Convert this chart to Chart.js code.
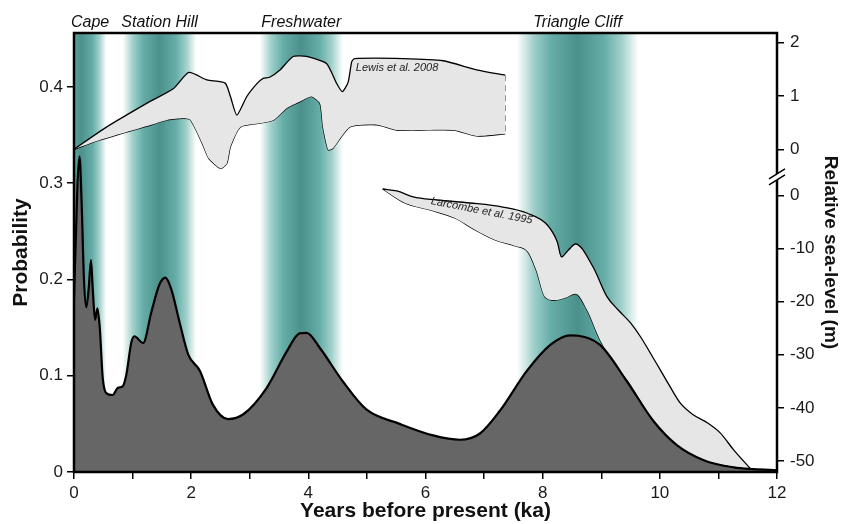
<!DOCTYPE html>
<html>
<head>
<meta charset="utf-8">
<title>Probability and relative sea-level</title>
<script src="https://cdn.jsdelivr.net/npm/chart.js"></script>
<style>
  html, body { margin: 0; padding: 0; background: #fff; }
  #wrap { width: 851px; height: 524px; }
</style>
</head>
<body>
<div id="wrap"><canvas id="seaChart" width="851" height="524"></canvas></div>
<script>
// Probability curve (ka vs probability)
const probX = [0, 0.03, 0.06, 0.094, 0.13, 0.17, 0.21, 0.25, 0.29, 0.32, 0.36, 0.40, 0.44, 0.49, 0.55, 0.66, 0.75, 0.83, 0.89, 0.98, 1.03, 1.18, 1.32, 1.46, 1.56, 1.66, 1.80, 1.95, 2.15, 2.37, 2.63, 2.89, 3.29, 3.63, 3.85, 3.97, 4.20, 4.59, 4.99, 5.56, 6.13, 6.59, 6.93, 7.27, 7.73, 8.13, 8.47, 8.61, 8.98, 9.44, 9.89, 10.29, 10.75, 11.26, 11.6, 12];
const probY = [0.18, 0.24, 0.30, 0.328, 0.28, 0.20, 0.171, 0.19, 0.22, 0.19, 0.158, 0.170, 0.15, 0.098, 0.082, 0.080, 0.0875, 0.089, 0.10, 0.135, 0.141, 0.134, 0.166, 0.195, 0.202, 0.190, 0.156, 0.122, 0.105, 0.070, 0.055, 0.060, 0.0875, 0.125, 0.144, 0.1446, 0.1285, 0.094, 0.065, 0.050, 0.038, 0.0335, 0.040, 0.0636, 0.105, 0.132, 0.142, 0.1415, 0.132, 0.094, 0.053, 0.028, 0.0123, 0.0048, 0.003, 0.002];

// Lewis et al. 2008 envelope (m, upper part of right axis)
const lewisTopX = [0, 0.56, 1.24, 1.70, 1.96, 2.27, 2.58, 2.67, 2.78, 2.95, 3.13, 3.23, 3.34, 3.51, 3.74, 3.97, 4.31, 4.48, 4.58, 4.68, 4.74, 4.79, 5.62, 6.30, 6.87, 7.36];
const lewisTopY = [0, 0.42, 0.86, 1.14, 1.44, 1.30, 1.24, 0.99, 0.64, 0.99, 1.24, 1.33, 1.35, 1.48, 1.74, 1.74, 1.61, 1.24, 1.08, 1.26, 1.64, 1.70, 1.70, 1.66, 1.49, 1.39];
const lewisBotX = [0, 0.43, 1.29, 1.59, 1.87, 1.99, 2.19, 2.30, 2.50, 2.61, 2.67, 2.84, 3.18, 3.41, 3.63, 3.85, 4.05, 4.20, 4.25, 4.34, 4.42, 4.71, 5.17, 5.51, 5.91, 6.48, 6.87, 7.36];
const lewisBotY = [0, 0.17, 0.45, 0.55, 0.58, 0.55, 0.11, -0.17, -0.36, -0.26, 0.05, 0.42, 0.49, 0.55, 0.77, 0.89, 0.99, 0.86, 0.42, -0.01, 0.02, 0.42, 0.46, 0.36, 0.36, 0.36, 0.25, 0.29];

// Larcombe et al. 1995 envelope (m, lower part of right axis)
const larcTopX = [5.27, 5.51, 5.79, 6.20, 6.76, 7.32, 7.73, 8.08, 8.25, 8.32, 8.44, 8.56, 8.86, 9.10, 9.29, 9.50, 9.67, 9.84, 10.01, 10.18, 10.35, 10.57, 10.81, 11.03, 11.26, 11.55];
const larcTopY = [1.22, 0.85, -0.28, -0.85, -1.41, -2.17, -3.30, -5.56, -8.76, -11.58, -10.26, -9.13, -13.47, -19.1, -21.56, -24.0, -26.6, -29.7, -32.9, -36.1, -39.1, -41.3, -42.8, -44.7, -47.9, -51.5];
const larcBotX = [5.27, 5.65, 6.08, 6.50, 6.85, 7.19, 7.53, 7.75, 7.89, 8.04, 8.21, 8.38, 8.56, 8.76, 8.98, 9.21, 9.44, 9.89, 10.29, 10.75, 11.26, 11.55];
const larcBotY = [1.22, -1.41, -2.73, -4.24, -6.50, -8.38, -9.51, -10.64, -14.03, -19.1, -19.7, -19.3, -18.5, -21.6, -27.2, -31.4, -34.7, -42.3, -47.0, -49.8, -51.1, -51.5];

// Shaded periods (ka)
const bandNames = ['Cape', 'Station Hill', 'Freshwater', 'Triangle Cliff'];
const bandStart = [-0.3, 0.83, 3.17, 7.56];
const bandEnd = [0.55, 2.09, 4.59, 9.63];

// Tick values
const xTicks = [0, 1, 2, 3, 4, 5, 6, 7, 8, 9, 10, 11, 12];
const probTicks = [0, 0.1, 0.2, 0.3, 0.4];
const seaUpTicks = [0, 1, 2];
const seaLowTicks = [0, -10, -20, -30, -40, -50];

function pts(xs, ys) {
  return xs.map((x, i) => ({ x: x, y: ys[i] }));
}

Chart.defaults.font.family = "'Liberation Sans', Arial, sans-serif";
Chart.defaults.color = '#1a1a1a';

const tickFont = { size: 17 };
const titleFont = { size: 21, weight: 'bold' };

// teal bands behind the curves
const bandPlugin = {
  id: 'bands',
  beforeDatasetsDraw(chart) {
    const { ctx, chartArea, scales } = chart;
    ctx.save();
    ctx.beginPath();
    ctx.rect(chartArea.left, chartArea.top, chartArea.right - chartArea.left, chartArea.bottom - chartArea.top);
    ctx.clip();
    bandStart.forEach((s, i) => {
      const x0 = scales.x.getPixelForValue(s);
      const x1 = scales.x.getPixelForValue(bandEnd[i]);
      const g = ctx.createLinearGradient(x0, 0, x1, 0);
      g.addColorStop(0, 'rgba(255,255,255,1)');
      g.addColorStop(0.14, '#9fcfca');
      g.addColorStop(0.28, '#66ada7');
      g.addColorStop(0.5, '#4b908b');
      g.addColorStop(0.72, '#66ada7');
      g.addColorStop(0.86, '#9fcfca');
      g.addColorStop(1, 'rgba(255,255,255,1)');
      ctx.fillStyle = g;
      ctx.fillRect(x0, chartArea.top, x1 - x0, chartArea.bottom - chartArea.top);
    });
    ctx.restore();
  }
};

// both sea-level scales share the same strip on the right
const shareRightPlugin = {
  id: 'shareRight',
  afterLayout(chart) {
    const up = chart.scales.yUp;
    const low = chart.scales.yLow;
    low.left = up.left;
    low.right = up.right;
    low.width = up.width;
  }
};

// labels, frame and axis break
const decoPlugin = {
  id: 'deco',
  afterDatasetsDraw(chart) {
    const { ctx, scales } = chart;
    ctx.save();
    ctx.fillStyle = '#222';
    ctx.font = "italic 11px 'Liberation Sans', Arial, sans-serif";
    ctx.textAlign = 'left';
    ctx.textBaseline = 'alphabetic';
    ctx.fillText('Lewis et al. 2008', scales.x.getPixelForValue(4.81), scales.yUp.getPixelForValue(1.46));

    ctx.translate(scales.x.getPixelForValue(6.96), scales.yLow.getPixelForValue(-2.9));
    ctx.rotate(11 * Math.PI / 180);
    ctx.textAlign = 'center';
    ctx.textBaseline = 'middle';
    ctx.fillText('Larcombe et al. 1995', 0, 0);
    ctx.restore();
  },
  afterDraw(chart) {
    const { ctx, chartArea, scales } = chart;
    ctx.save();
    // band names
    ctx.fillStyle = '#111';
    ctx.font = "italic 16px 'Liberation Sans', Arial, sans-serif";
    ctx.textAlign = 'center';
    ctx.textBaseline = 'alphabetic';
    bandNames.forEach((name, i) => {
      const mid = (Math.max(bandStart[i], 0) + bandEnd[i]) / 2;
      ctx.fillText(name, scales.x.getPixelForValue(mid), chartArea.top - 6);
    });
    // frame
    ctx.strokeStyle = '#000';
    ctx.lineWidth = 2.5;
    ctx.strokeRect(chartArea.left, chartArea.top, chartArea.right - chartArea.left, chartArea.bottom - chartArea.top);
    // break on right axis
    const bx = chartArea.right;
    const by = scales.yUp.getPixelForValue(-0.5);
    ctx.fillStyle = '#fff';
    ctx.beginPath();
    ctx.moveTo(bx - 8, by + 3);
    ctx.lineTo(bx + 8, by - 7);
    ctx.lineTo(bx + 8, by - 1);
    ctx.lineTo(bx - 8, by + 9);
    ctx.closePath();
    ctx.fill();
    ctx.lineWidth = 1.5;
    ctx.beginPath();
    ctx.moveTo(bx - 8, by + 3);
    ctx.lineTo(bx + 8, by - 7);
    ctx.moveTo(bx - 8, by + 9);
    ctx.lineTo(bx + 8, by - 1);
    ctx.stroke();
    ctx.restore();
  }
};

const tickGrid = { drawOnChartArea: false, drawTicks: true, tickLength: 7, color: '#000', lineWidth: 1.5 };

new Chart(document.getElementById('seaChart').getContext('2d'), {
  type: 'line',
  data: {
    datasets: [
      { label: 'Probability', data: pts(probX, probY), yAxisID: 'y', fill: 'origin',
        backgroundColor: '#666666', borderColor: '#000', borderWidth: 2.2, cubicInterpolationMode: 'monotone' },
      { label: 'Larcombe top', data: pts(larcTopX, larcTopY), yAxisID: 'yLow', fill: '+1',
        backgroundColor: '#e6e6e6', borderColor: '#000', borderWidth: 1.3, cubicInterpolationMode: 'monotone' },
      { label: 'Larcombe bottom', data: pts(larcBotX, larcBotY), yAxisID: 'yLow', fill: false,
        borderColor: '#000', borderWidth: 1.3, cubicInterpolationMode: 'monotone' },
      { label: 'Lewis top', data: pts(lewisTopX, lewisTopY), yAxisID: 'yUp', fill: '+1',
        backgroundColor: '#e6e6e6', borderColor: '#000', borderWidth: 1.3, tension: 0.2 },
      { label: 'Lewis bottom', data: pts(lewisBotX, lewisBotY), yAxisID: 'yUp', fill: false,
        borderColor: '#000', borderWidth: 1.3, tension: 0.2 },
      { label: 'Lewis end', data: [{ x: lewisTopX[lewisTopX.length - 1], y: lewisTopY[lewisTopY.length - 1] },
                                   { x: lewisBotX[lewisBotX.length - 1], y: lewisBotY[lewisBotY.length - 1] }],
        yAxisID: 'yUp', fill: false, borderColor: '#888', borderWidth: 1.5, borderDash: [6, 4] }
    ]
  },
  options: {
    responsive: false,
    animation: false,
    events: [],
    elements: { point: { radius: 0 } },
    layout: { padding: { top: 33, left: 0, right: 0, bottom: 0 } },
    plugins: { legend: { display: false }, tooltip: { enabled: false } },
    scales: {
      x: {
        type: 'linear', min: 0, max: 12,
        afterBuildTicks: s => { s.ticks = xTicks.map(v => ({ value: v })); },
        afterFit: s => { s.height = 52; },
        ticks: { autoSkip: false, maxRotation: 0, padding: 4, font: tickFont,
                 callback: v => (v % 2 === 0 ? String(v) : '') },
        grid: tickGrid,
        border: { display: false },
        title: { display: true, text: 'Years before present (ka)', font: titleFont, color: '#111', padding: { top: 0, bottom: 0 } }
      },
      y: {
        position: 'left', min: 0, max: 0.456,
        afterBuildTicks: s => { s.ticks = probTicks.map(v => ({ value: v })); },
        afterFit: s => { s.width = 74; },
        ticks: { padding: 4, font: tickFont, callback: v => String(v) },
        grid: tickGrid,
        border: { display: false },
        title: { display: true, text: 'Probability', font: titleFont, color: '#111', padding: { top: 9, bottom: 0 } }
      },
      yUp: {
        position: 'right', weight: 0, min: -6.05, max: 2.18,
        afterBuildTicks: s => { s.ticks = seaUpTicks.map(v => ({ value: v })); },
        afterFit: s => { s.width = 74; },
        ticks: { padding: 6, font: tickFont, callback: v => String(v) },
        grid: tickGrid,
        border: { display: false }
      },
      yLow: {
        position: 'right', weight: 1, min: -52.07, max: 30.6,
        afterBuildTicks: s => { s.ticks = seaLowTicks.map(v => ({ value: v })); },
        afterFit: s => { s.width = 0; },
        ticks: { padding: 6, font: tickFont, callback: v => String(v) },
        grid: tickGrid,
        border: { display: false },
        title: { display: true, text: 'Relative sea-level (m)', font: { size: 19, weight: 'bold' }, color: '#111', padding: { top: 9, bottom: 0 } }
      }
    }
  },
  plugins: [bandPlugin, shareRightPlugin, decoPlugin]
});
</script>
</body>
</html>
